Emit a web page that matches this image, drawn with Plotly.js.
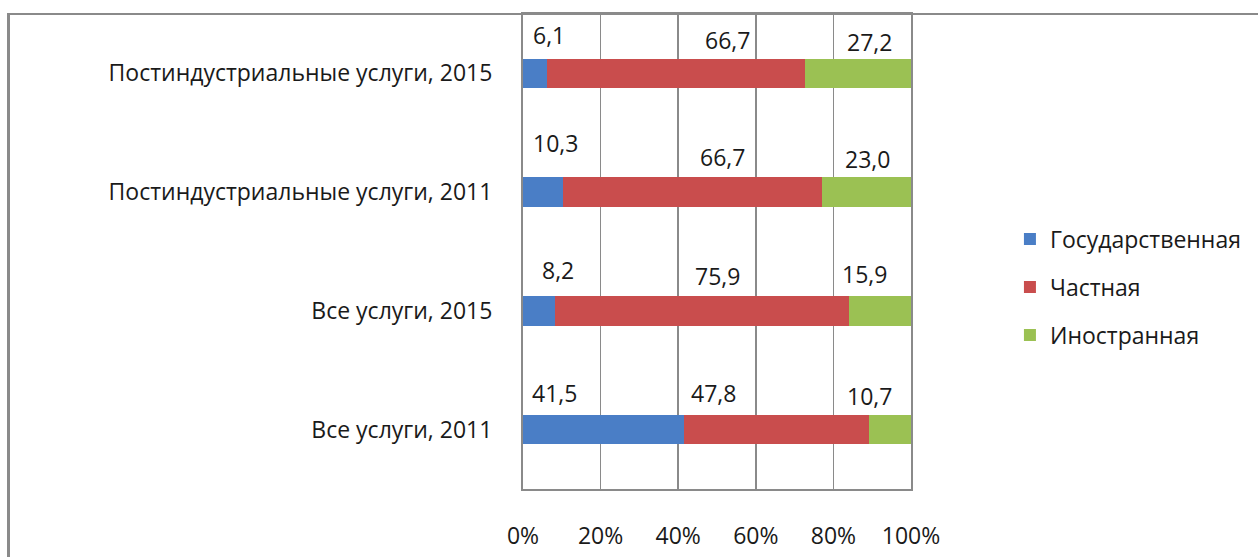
<!DOCTYPE html>
<html>
<head>
<meta charset="utf-8">
<script src="https://cdn.plot.ly/plotly-3.0.1.min.js"></script>
<style>
  html, body { margin: 0; padding: 0; background: #fff; }
  #chart { width: 1258px; height: 557px; position: absolute; left: 0; top: 0; }
  #frame { position: absolute; left: 7px; top: 13px; width: 1260px; height: 560px;
           border-top: 2px solid #8a8a8a; border-left: 3px solid #8a8a8a; pointer-events: none; }
</style>
</head>
<body>
<div id="chart"></div>
<div id="frame"></div>
<script>
// Data (bottom to top as drawn)
const categories = [
  "Все услуги, 2011",
  "Все услуги, 2015",
  "Постиндустриальные услуги, 2011",
  "Постиндустриальные услуги, 2015"
];
const seriesNames = ["Государственная", "Частная", "Иностранная"];
const stateValues   = [41.5, 8.2, 10.3, 6.1];
const privateValues = [47.8, 75.9, 66.7, 66.7];
const foreignValues = [10.7, 15.9, 23.0, 27.2];
const xTickValues = [0, 20, 40, 60, 80, 100];
const xTickLabels = ["0%", "20%", "40%", "60%", "80%", "100%"];

const seriesValues = [stateValues, privateValues, foreignValues];
const colors = ["#4a7ec6", "#c94d4d", "#9bc153"];
const FONT = "'Open Sans', 'Noto Sans', sans-serif";
const FS = 23;

const traces = seriesValues.map((vals, i) => ({
  type: "bar",
  orientation: "h",
  name: seriesNames[i],
  legendgroup: "g" + i,
  y: categories,
  x: vals,
  marker: { color: colors[i], line: { width: 0 } },
  hoverinfo: "x+name"
}));

// Label placement (layout only, as manually placed in the original):
// horizontal column position (axis units) and vertical shift (px) per series and row
const labelX = [
  [2.1, 4.6, 2.3, 2.3],
  [49.0, 50.0, 51.3, 52.6],
  [89.2, 88.1, 88.7, 89.2]
];
const labelAnchor = ["left", "center", "center"];
const labelShift = [
  [37, 41, 49, 38],
  [37, 35, 35, 33],
  [34, 37, 33, 31]
];

const annotations = [];
seriesValues.forEach((vals, i) => {
  vals.forEach((v, j) => {
    annotations.push({
      x: labelX[i][j], y: categories[j], xref: "x", yref: "y",
      text: v.toFixed(1).replace(".", ","),
      showarrow: false, xanchor: labelAnchor[i], yanchor: "middle",
      yshift: labelShift[i][j],
      bgcolor: "#ffffff", borderpad: 0,
      font: { family: FONT, size: FS, color: "#1a1a1a" }
    });
  });
});

const layout = {
  width: 1258, height: 557,
  margin: { l: 523, r: 347, t: 14, b: 68 },
  paper_bgcolor: "#ffffff", plot_bgcolor: "#ffffff",
  barmode: "stack",
  bargap: 0.75,
  showlegend: true,
  legend: {
    x: 1.255, y: 0.425, xanchor: "left", yanchor: "middle",
    traceorder: "grouped", tracegroupgap: 15,
    font: { family: FONT, size: FS, color: "#1a1a1a" },
    itemwidth: 30, bgcolor: "rgba(0,0,0,0)"
  },
  xaxis: {
    range: [0, 100], tickvals: xTickValues, ticktext: xTickLabels,
    showgrid: true, gridcolor: "#8a8a8a", gridwidth: 1.5,
    zeroline: false, showline: true, linecolor: "#8a8a8a", linewidth: 2, mirror: true,
    ticks: "", ticklabelstandoff: 25,
    tickfont: { family: FONT, size: FS, color: "#1a1a1a" },
    fixedrange: true
  },
  yaxis: {
    type: "category", categoryorder: "array", categoryarray: categories,
    range: [-0.5, 3.5],
    showgrid: false, zeroline: false, showline: true, linecolor: "#8a8a8a", linewidth: 2, mirror: true,
    ticks: "", ticklabelstandoff: 24,
    tickfont: { family: FONT, size: FS, color: "#1a1a1a" },
    fixedrange: true
  },
  annotations: annotations
};

Plotly.newPlot("chart", traces, layout, { displayModeBar: false, staticPlot: true });
</script>
</body>
</html>
